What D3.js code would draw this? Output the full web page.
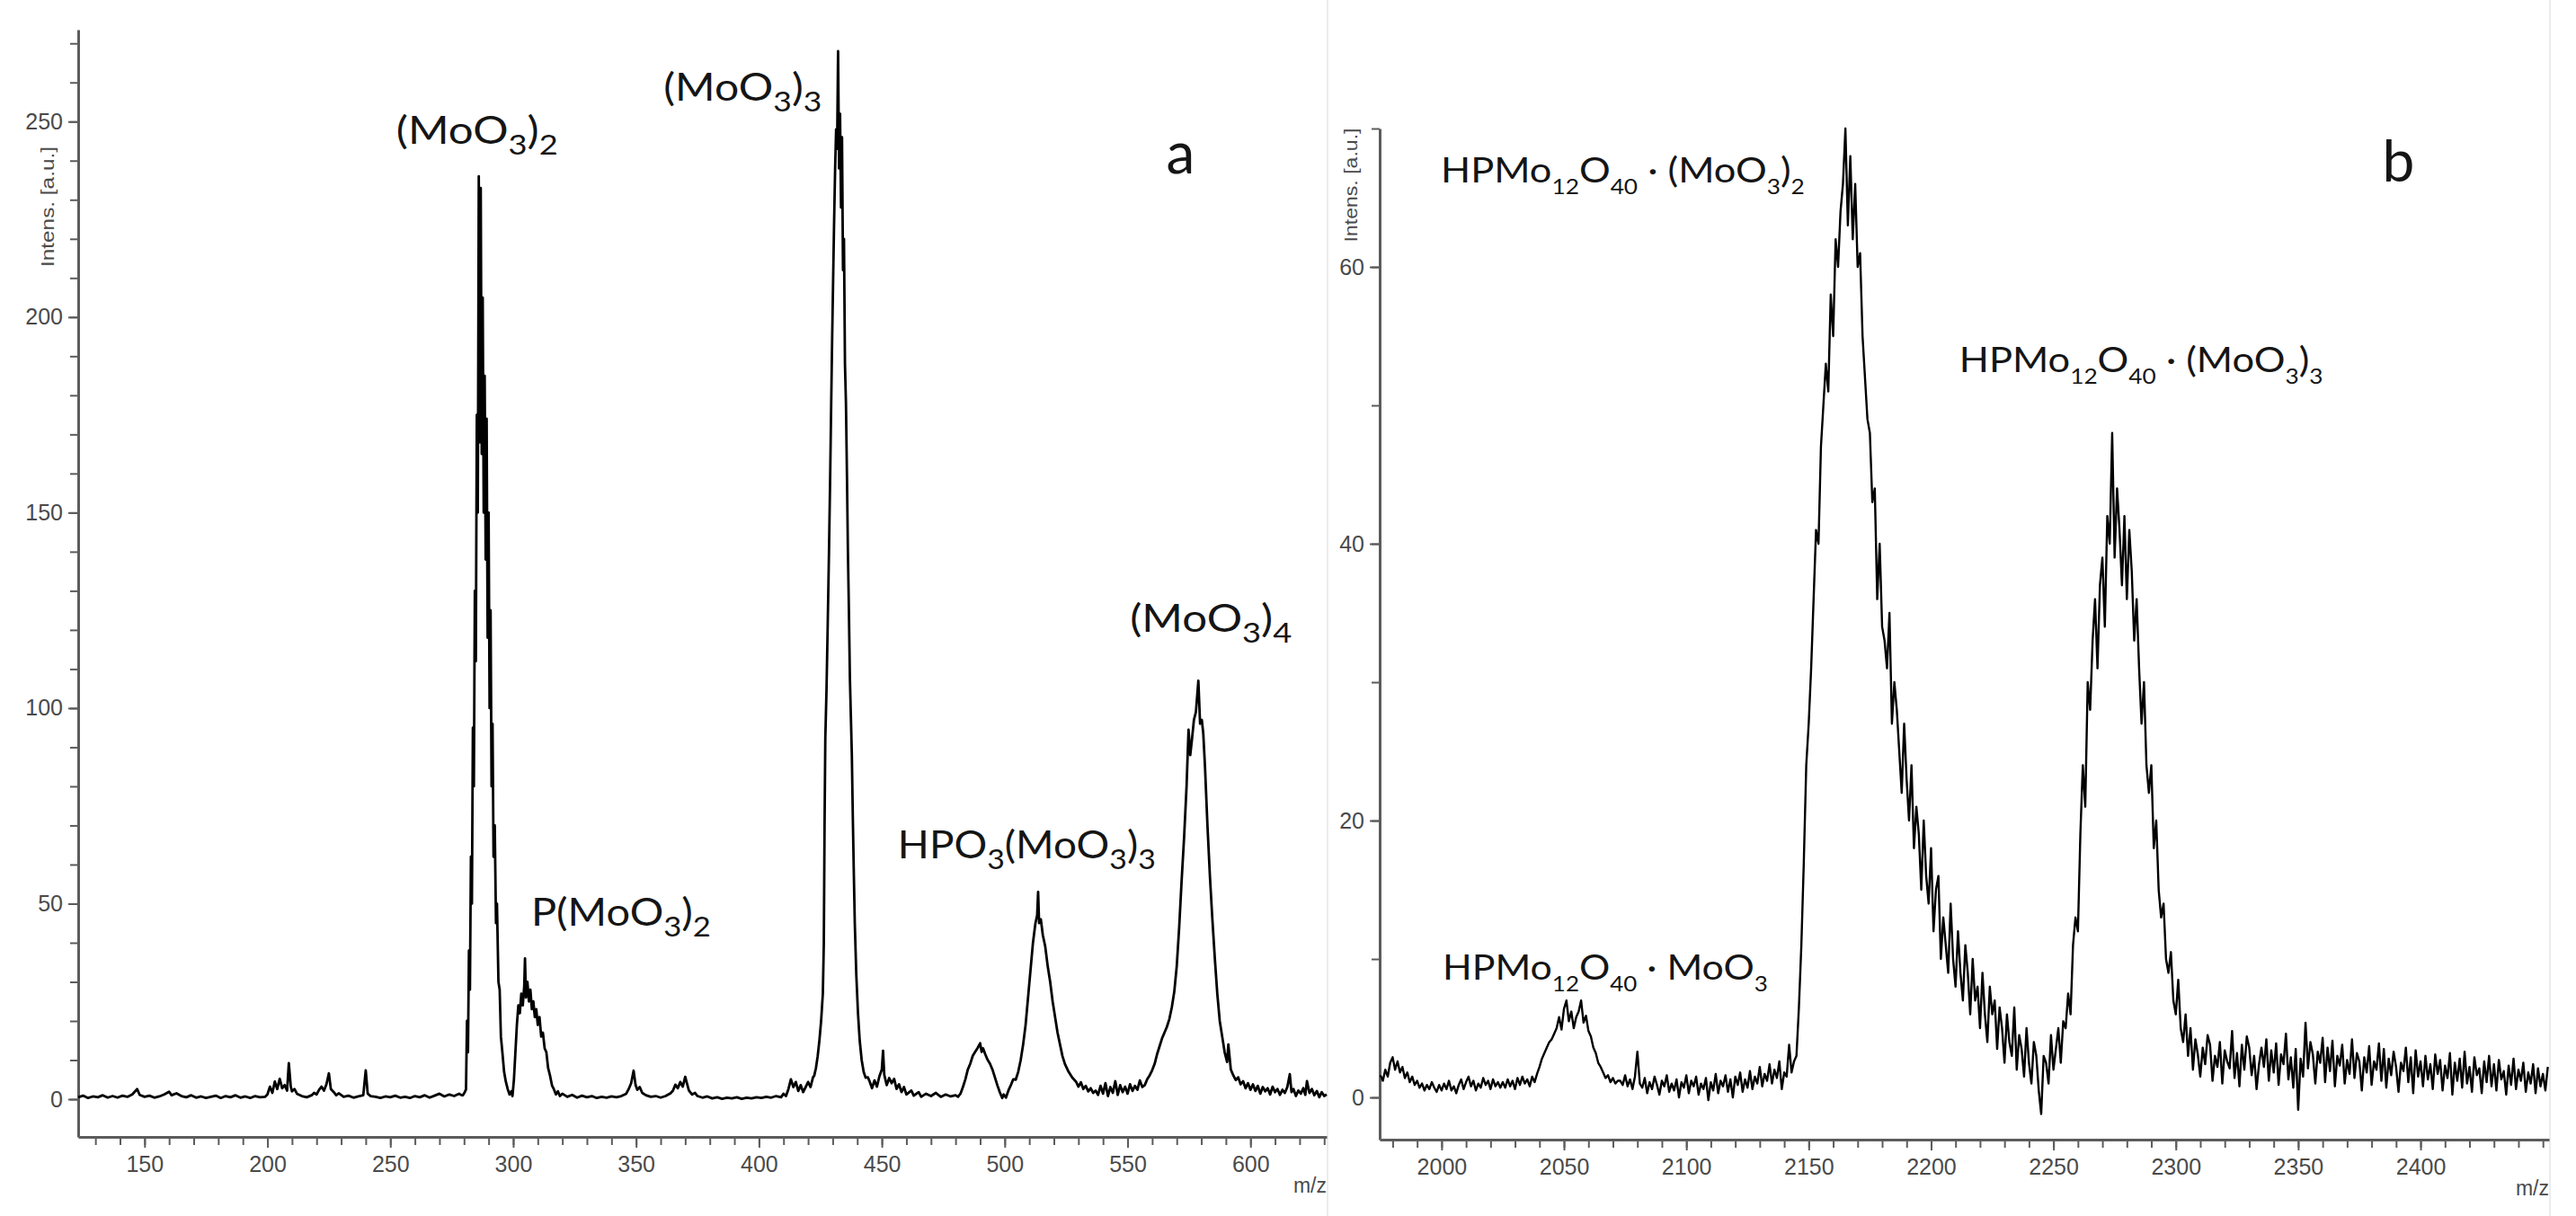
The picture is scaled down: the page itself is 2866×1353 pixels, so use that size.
<!DOCTYPE html>
<html><head><meta charset="utf-8">
<script src="https://cdn.jsdelivr.net/npm/d3@7"></script>
<style>
html,body{margin:0;padding:0;background:#fff;}
svg{display:block;}
text{white-space:pre;}
</style></head>
<body>
<svg id="chart" width="2866" height="1353"></svg>
<script>
// ================= DATA =================
// Panel a : m/z domain, intensity domain, tick labels
const aXDomain = [123, 631];
const aYDomain = [-9.65, 273.5];
const aXTickLabels = [150, 200, 250, 300, 350, 400, 450, 500, 550, 600];
const aYTickLabels = [0, 50, 100, 150, 200, 250];
const aXMinorTicks = [130,140,150,160,170,180,190,200,210,220,230,240,250,260,270,280,290,300,310,320,330,340,350,360,370,380,390,400,410,420,430,440,450,460,470,480,490,500,510,520,530,540,550,560,570,580,590,600,610,620,630];
const aYMinorTicks = [0,10,20,30,40,50,60,70,80,90,100,110,120,130,140,150,160,170,180,190,200,210,220,230,240,250,260,270];

// Panel a spectrum segments: [m/z, intensity]
const aBaseline1 = [[123,0.5],[125,0.9],[127,0.3],[129,0.7],[131,0.5],[133,1.0],[135,0.4],[137,0.8],[139,0.4],[141,0.9],[143,0.6],[145,1.2],[147,2.6],[148,1.1],[150,0.6],[152,0.9],[154,0.4],[156,0.7],[158,1.2],[160,1.9],[161,1.0],[163,1.5],[165,0.8],[167,0.5],[169,1.0],[171,0.4],[173,0.7],[175,0.3],[177,0.6],[179,0.9],[181,0.3],[183,0.8],[185,0.5],[187,1.0],[189,0.4],[191,0.7],[193,0.3],[195,0.8],[197,0.5],[199,0.6],[200,1.2],[201,3.2],[202,1.6],[203,4.5],[204,2.6],[205,5.2],[206,2.8],[207,3.6],[208,2.2],[208.7,9.2],[209.5,3.2],[210,2.0],[211,2.6],[212,1.4],[214,0.8],[216,0.5],[218,1.0],[219,1.6],[220,1.2],[221,2.4],[222,3.2],[223,2.2],[224,3.8],[225,6.6],[225.8,2.6],[227,1.8],[228,1.0],[229,1.5],[231,0.6],[233,0.9],[235,0.4],[237,0.7],[239,1.0],[240,7.4],[240.8,1.4],[242,0.8],[244,0.6],[246,0.3],[248,0.7],[250,0.5],[252,0.9],[254,0.4],[256,0.6],[258,0.3],[260,0.8],[262,0.5],[264,1.0],[266,0.4],[268,0.9],[270,1.4],[272,0.7],[274,1.2],[276,0.8],[278,1.4],[279,1.0]];
const aMoO3x2 = [[279.5,1.0],[280.3,1.8],[280.8,2.5],[281.2,20],[281.6,12],[282,38],[282.4,28],[282.8,62],[283.2,50],[283.6,95],[284,80],[284.4,130],[284.8,112],[285.2,175],[285.6,150],[286,236],[286.4,168],[286.8,233],[287.2,165],[287.6,205],[288,150],[288.4,185],[288.8,138],[289.2,174],[289.6,118],[290,150],[290.4,100],[290.8,125],[291.2,80],[291.6,96],[292,62],[292.5,70],[293,45],[293.4,50],[294,30],[294.5,28],[295,16],[295.6,12],[296.3,7],[297,4.5],[297.8,2.5],[298.5,1.2],[299.2,2.0],[299.7,0.8]];
const aPMoO3x2 = [[300.3,5],[300.9,12],[301.5,19],[302.1,24],[302.7,22],[303.3,27],[303.9,24],[304.5,29],[304.8,36],[305.2,26],[305.8,30],[306.4,25],[307,28],[307.6,23],[308.2,25],[308.8,21],[309.4,23],[310,19],[310.7,21],[311.4,16],[312.1,17],[312.8,13],[313.5,12],[314.2,8],[315,6],[315.8,3.5],[316.6,2.5],[317.4,1.2]];
const aBaseline2 = [[318.2,2.0],[319,0.8],[320,1.4],[322,0.6],[324,1.1],[326,0.4],[328,0.9],[330,0.5],[332,0.8],[334,0.3],[336,0.6],[338,0.4],[340,0.7],[342,0.5],[344,0.8],[346,1.4],[347,2.6],[348,4.1],[349,7.3],[349.8,3.6],[350.5,2.4],[351.5,3.1],[352.5,1.6],[354,1.0],[356,0.6],[358,0.8],[360,0.4],[362,0.8],[364,1.5],[365,2.2],[366,3.7],[367,2.8],[368,4.4],[369,3.2],[370,5.7],[370.8,3.8],[371.5,2.2],[372.8,1.2],[374,1.6],[375,0.8],[377,0.4],[379,0.7],[381,0.2],[383,0.5],[385,0.1],[387,0.4],[389,0.2],[391,0.5],[393,0.1],[395,0.4],[397,0.2],[399,0.5],[401,0.3],[403,0.6],[405,0.4],[407,0.8],[409,0.5],[410,1.4],[411,0.8],[412,2.6],[413,5.1],[414,3.1],[415,4.4],[416,2.1],[417,3.6],[418,1.8],[419,3.1],[420,4.4],[421,3.1],[422,5.6]];
const aMoO3x3 = [[422.5,6],[423.2,8],[423.9,11],[424.6,15],[425.3,20],[426,27],[426.4,40],[426.7,70],[427,92],[427.5,105],[428,122],[428.5,140],[429,160],[429.4,178],[429.8,195],[430.2,210],[430.6,225],[431,238],[431.4,248],[431.8,243],[432.2,268],[432.6,238],[433,252],[433.4,228],[433.8,246],[434.2,212],[434.6,220],[435,188],[435.4,178],[435.8,160],[436.2,140],[436.6,125],[437,108],[437.4,98],[437.8,88],[438.2,72],[438.6,58],[439,45],[439.6,32],[440.3,22],[441,15],[441.8,10],[442.6,7],[443.4,5.5]];
const aBaseline3 = [[444.3,5.6],[445,4.6],[446,2.8],[447,4.8],[448,3.2],[449,5.8],[450,7.6],[450.5,12.4],[451,6.2],[452,3.6],[453,5.4],[454,4.1],[455,5.2],[456,2.6],[457,3.8],[458,1.8],[459,3.1],[460,1.2],[462,2.2],[463,0.9],[465,1.8],[466,0.6],[468,1.4],[470,0.8],[472,1.6],[474,0.6],[476,1.2],[478,0.7],[480,1.0],[481,0.6],[482,1.4],[483,3.1],[484,5.1],[485,7.6],[486,9.1],[487,11.1],[488,12.1],[489,13.1],[490,14.3],[490.6,12.1],[491.2,13.0],[492,11.6],[493,10.1],[494,9.1],[495,7.6],[496,5.6],[497,3.6],[498,1.8],[499,0.3],[499.6,1.2],[500.5,0.4],[501.5,2.2],[502.5,3.6],[503.5,5.1]];
const aHPO3MoO3x3 = [[504.5,5],[505.5,7],[506.5,10],[507.5,14],[508.5,19],[509.5,26],[510.5,33],[511.5,40],[512.5,45],[513.2,47],[513.6,53],[514,45],[514.7,46],[515.5,42],[516.5,39],[517.5,34],[518.5,30],[519.5,25],[520.5,21],[521.5,17],[522.5,14],[523.5,11],[524.5,9],[526,7],[527.5,5.5],[529,4.5]];
const aBaseline4 = [[530,3.2],[531,4.3],[532,2.6],[533,3.4],[534,2.0],[535,2.8],[536,1.6],[537,2.2],[538,1.1],[539,3.4],[540,1.4],[541,4.1],[542,0.8],[543,3.1],[544,1.6],[545,4.6],[546,1.1],[547,3.6],[548,1.8],[549,3.2],[550,1.4],[551,3.8],[552,2.1],[553,3.4],[554,2.4],[555,4.8],[556,3.1],[557,3.6],[558,5.1],[559,6.1],[560,7.4],[561,9.0],[562,11.5]];
const aMoO3x4 = [[563,13.5],[564,15.5],[565,17],[566,18.5],[567,20.5],[568,23.5],[569,27.5],[570,34],[571,44],[572,56],[573,67],[574,80],[574.8,94.5],[575.5,88],[576.2,92],[577,97],[577.8,99],[578.8,107],[579.5,96],[580.2,97],[580.8,93.5],[581.5,85],[582.5,70],[583.5,57],[584.5,46],[585.5,36],[586.5,27],[587.5,20],[588.5,16],[589.5,12],[590.5,9.5],[591,14]];
const aBaseline5 = [[592,7.6],[593,6.1],[594,4.9],[595,5.6],[596,3.8],[597,4.6],[598,2.8],[599,4.1],[600,2.4],[601,3.8],[602,2.1],[603,3.4],[604,1.4],[605,3.1],[606,2.0],[607,2.8],[608,1.2],[609,3.2],[610,1.8],[611,2.6],[612,1.1],[613,2.4],[614,1.6],[615,3.1],[616,6.4],[616.7,1.8],[617.5,2.6],[618.5,0.8],[619.5,2.2],[620.5,1.4],[621.5,2.8],[622.3,1.1],[623,4.6],[624,1.6],[625,2.6],[626,1.0],[627,2.1],[628,0.5],[629,1.8],[630,0.8],[631,1.2]];

// Panel a annotations: text ("_n" = subscript), anchor m/z, anchor intensity (text baseline)
const aLabels = [
  ["(MoO_3)_2", 252.4, 244.3],
  ["(MoO_3)_3", 361.2, 255.3],
  ["P(MoO_3)_2", 307.3, 44.3],
  ["HPO_3(MoO_3)_3", 456.5, 61.6],
  ["(MoO_3)_4", 551.0, 119.5]
];
const aPanelLetter = ["a", 565.7, 236.7];

// Panel b
const bXDomain = [1974.7, 2452.5];
const bYDomain = [-3.05, 70];
const bXTickLabels = [2000, 2050, 2100, 2150, 2200, 2250, 2300, 2350, 2400];
const bYTickLabels = [0, 20, 40, 60];
const bXMinorTicks = [1980,1990,2000,2010,2020,2030,2040,2050,2060,2070,2080,2090,2100,2110,2120,2130,2140,2150,2160,2170,2180,2190,2200,2210,2220,2230,2240,2250,2260,2270,2280,2290,2300,2310,2320,2330,2340,2350,2360,2370,2380,2390,2400,2410,2420,2430,2440,2450];
const bYMinorTicks = [0,10,20,30,40,50,60,70];

// Panel b spectrum: uniformly sampled segments (start m/z, step 1 m/z, intensities)
const bLowMassStart = 1975;
const bLowMass = [
  1.6,1.2,2.0,1.5,2.5,2.9,2.0,2.6,1.8,2.2,
  1.4,1.8,1.1,1.5,0.9,1.2,0.7,1.0,0.5,0.9,
  0.6,1.1,0.7,0.4,0.9,0.5,1.0,0.6,1.2,0.5,
  0.8,0.3,0.9,1.3,0.6,1.1,1.5,0.8,1.2,0.5,
  1.0,0.7,1.4,0.9,1.2,0.6,1.3,0.8,1.1,0.7,
  1.1,0.7,1.3,0.8,1.2,0.6,1.4,0.9,1.5,1.0,
  1.3,0.8,1.5,1.1,1.7,2.2,2.8,3.2,3.6,4.0,
  4.2,4.6,5.0,5.8,4.9,6.4,7.0,5.5,6.2,5.0,
  5.8,6.2,7.0,5.4,5.9,4.8,4.4,3.6,3.2,2.5,
  2.2,1.8,1.4,1.6,1.1,1.4,1.0,1.2,1.2,0.9,
  1.6,0.8,1.3,0.6,1.5,3.3,1.0,0.7,1.4,0.3,
  1.1,0.6,1.5,0.9,0.2,1.2,0.8,1.6,0.4,1.0,
  0.5,1.3,0.0,1.1,0.7,1.6,0.3,1.2,0.8,1.5,
  0.2,1.0,0.6,1.4,-0.2,1.1,0.5,1.7,0.3,1.2,
  0.8,1.6,0.4,1.3,0.0,1.5,0.9,1.8,0.4,1.3,
  0.7,1.9,0.6,1.5,1.0,2.2,0.8,1.7,1.2,2.4,
  1.0,2.0,1.4,2.6,0.6,1.8,1.5,3.8,1.8,2.6
];
const bClusterStart = 2145;
const bCluster = [
  3.0,6.5,11,17,24,27,31,36,41,40,
  47,50,53,51,58,55,62,60,64,66,
  70,63,68,62,66,60,61,55,52,49,
  48,43,44,36,40,34,33,31,35,27,
  30,28,25,22,27,23,20,24,18,21,
  19,15,20,16,14,18,12,15,16,10,
  13,11,9,14,10,8,12,9,7,11,
  9,6,10,7,8,5,9,6,4,8,
  6,7,3.5,6.5,5,2.5,6,4,3,6.5,
  2,4.5,3.5,1.5,5,2.5,1,4,3,0.5,
  -1.2,3,2.5,1,4.5,2,3.5,5,2.5,5.5,
  5,7.5,6,11,13,12,19,24,21,30,
  28,33,36,31,37,39,34,42,40,48,
  39,44,41,37,42,36,41,38,33,36,
  31,27,30,24,22,24,18,20,15,13,
  14,10,9,10.5,7,6,8.5,5,4,6,
  3,5
];
const bHighMassStart = 2307;
const bHighMass = [
  2.0,4.2,3.1,1.5,3.6,2.4,4.5,3.8,1.2,3.0,
  2.2,4.0,1.0,3.4,2.6,2.1,4.8,1.4,3.2,0.8,
  3.8,2.0,4.4,3.6,1.6,3.0,0.6,2.4,3.6,2.2,
  4.2,1.2,3.4,1.8,3.9,0.9,3.1,2.4,4.6,1.3,
  2.9,0.7,3.5,-0.9,2.8,1.5,5.4,2.1,4.0,3.1,
  1.0,3.3,2.5,4.3,1.1,3.6,1.9,4.1,0.8,3.0,
  2.3,3.8,1.0,2.7,1.7,4.2,1.4,3.2,2.6,0.5,
  2.9,1.8,3.7,0.9,2.6,2.0,3.9,1.2,3.5,0.7,
  2.8,1.6,3.3,2.2,0.4,2.5,1.9,3.6,1.1,2.9,
  0.3,3.4,1.5,2.6,0.8,3.0,1.3,2.4,0.6,3.1,
  1.7,2.7,0.5,2.3,1.4,3.2,0.2,2.5,1.2,2.8,
  0.7,3.3,1.0,2.2,0.4,2.9,1.6,2.1,0.3,2.6,
  1.1,3.0,0.8,2.4,0.5,2.7,1.3,1.9,0.2,2.3,
  0.9,2.8,0.6,2.0,1.2,2.5,0.4,1.8,1.0,2.4,
  0.3,2.1,0.8,1.7,0.5,2.2
];

const bLabels = [
  ["HPMo_12O_40 · (MoO_3)_2", 1999.7, 66.1],
  ["HPMo_12O_40 · (MoO_3)_3", 2211.5, 52.4],
  ["HPMo_12O_40 · MoO_3", 2000.4, 8.5]
];
const bPanelLetter = ["b", 2384.4, 66.2];
const axisTitleY = "Intens. [a.u.]";
const axisTitleX = "m/z";

// ================= LAYOUT / STYLE =================
const L = {
  a: { x0: 87, x1: 1476, yTop: 33, yBottom: 1265,
       titleX: 53, titleMidY: 230, titleLen: 134,
       labelSize: 42, subSize: 31, subDy: 12,
       labelWidths: [180, 176, 200, 287, 180], lineWidth: 2.8 },
  b: { x0: 1535, x1: 2836, yTop: 143, yBottom: 1268,
       titleX: 1503, titleMidY: 206, titleLen: 127,
       labelSize: 38, subSize: 23, subDy: 13,
       labelWidths: [405, 405, 362], lineWidth: 2.4 }
};
const axisColor = "#5c5c5c";
const tickTextColor = "#4a4a4a";
const tickFont = "'Liberation Sans', Arial, sans-serif";
const labelFont = "Lato, 'Open Sans', sans-serif";

const svg = d3.select("#chart");
svg.append("rect").attr("width", 2866).attr("height", 1353).attr("fill", "#fff");

// faint image borders
[1477, 2837].forEach(xx => svg.append("line")
  .attr("x1", xx).attr("x2", xx).attr("y1", 0).attr("y2", 1353)
  .attr("stroke", "#ececec").attr("stroke-width", 2));

function addChemLabel(g, str, x, y, size, subSize, subDy, width, color) {
  const t = g.append("text").attr("font-family", labelFont)
    .attr("font-size", size).attr("fill", color || "#151515");
  const parts = str.split(/(_\d+)/).filter(s => s.length);
  let shifted = false;
  parts.forEach(p => {
    if (p[0] === "_") {
      t.append("tspan").attr("font-size", subSize).attr("dy", shifted ? 0 : subDy).text(p.slice(1));
      shifted = true;
    } else {
      t.append("tspan").attr("dy", shifted ? -subDy : 0).text(p);
      shifted = false;
    }
  });
  let sx = 1;
  if (width) {
    const w = t.node().getComputedTextLength();
    if (w > 0) sx = width / w;
  }
  t.attr("transform", `translate(${x},${y}) scale(${sx},1)`);
  return t;
}

function drawPanel(key, xDomain, yDomain, xMinor, xMajor, yMinor, yMajor, data, labels, letter) {
  const P = L[key];
  const g = svg.append("g").attr("class", "panel-" + key);
  const x = d3.scaleLinear().domain(xDomain).range([P.x0, P.x1]);
  const y = d3.scaleLinear().domain(yDomain).range([P.yBottom, P.yTop]);

  // x axis minor + major
  const gx = g.append("g").attr("transform", `translate(0,${P.yBottom})`);
  gx.call(d3.axisBottom(x).tickValues(xMinor).tickSize(9).tickSizeOuter(0).tickFormat(""));
  const gx2 = g.append("g").attr("transform", `translate(0,${P.yBottom})`);
  gx2.call(d3.axisBottom(x).tickValues(xMajor).tickSize(12).tickSizeOuter(0).tickPadding(9).tickFormat(d3.format("d")));
  gx2.select(".domain").remove();

  // y axis minor + major
  const gy = g.append("g").attr("transform", `translate(${P.x0},0)`);
  gy.call(d3.axisLeft(y).tickValues(yMinor).tickSize(9).tickSizeOuter(0).tickFormat(""));
  const gy2 = g.append("g").attr("transform", `translate(${P.x0},0)`);
  gy2.call(d3.axisLeft(y).tickValues(yMajor).tickSize(11).tickSizeOuter(0).tickPadding(6).tickFormat(d3.format("d")));
  gy2.select(".domain").remove();

  g.selectAll(".domain").attr("stroke", axisColor).attr("stroke-width", 3);
  g.selectAll(".tick line").attr("stroke", axisColor).attr("stroke-width", 2);
  g.selectAll(".tick text").attr("font-family", tickFont).attr("font-size", 25)
    .attr("fill", tickTextColor);

  // axis titles
  g.append("text").attr("font-family", tickFont).attr("font-size", 20).attr("fill", tickTextColor)
    .attr("text-anchor", "middle")
    .attr("transform", `translate(${P.titleX},${P.titleMidY}) rotate(-90)`)
    .attr("dy", "0.35em")
    .attr("textLength", P.titleLen).attr("lengthAdjust", "spacingAndGlyphs")
    .text(axisTitleY);
  g.append("text").attr("font-family", tickFont).attr("font-size", 23).attr("fill", tickTextColor)
    .attr("text-anchor", "end").attr("x", P.x1).attr("y", P.yBottom + 62)
    .text(axisTitleX);

  // spectrum
  g.append("path").datum(data)
    .attr("fill", "none").attr("stroke", "#000").attr("stroke-width", P.lineWidth)
    .attr("stroke-linejoin", "round")
    .attr("d", d3.line().x(d => x(d[0])).y(d => y(d[1])));

  // annotations
  labels.forEach((lb, i) => {
    addChemLabel(g, lb[0], x(lb[1]), y(lb[2]), P.labelSize, P.subSize, P.subDy, P.labelWidths[i]);
  });
  g.append("text").attr("font-family", labelFont).attr("font-size", 64).attr("fill", "#151515")
    .attr("x", x(letter[1])).attr("y", y(letter[2])).text(letter[0]);
}

const aSpectrum = [].concat(aBaseline1, aMoO3x2, aPMoO3x2, aBaseline2, aMoO3x3, aBaseline3,
  aHPO3MoO3x3, aBaseline4, aMoO3x4, aBaseline5);
const toPairs = (start, vals) => vals.map((v, i) => [start + i, v]);
const bSpectrum = [].concat(toPairs(bLowMassStart, bLowMass), toPairs(bClusterStart, bCluster),
  toPairs(bHighMassStart, bHighMass));

drawPanel("a", aXDomain, aYDomain, aXMinorTicks, aXTickLabels, aYMinorTicks, aYTickLabels, aSpectrum, aLabels, aPanelLetter);
drawPanel("b", bXDomain, bYDomain, bXMinorTicks, bXTickLabels, bYMinorTicks, bYTickLabels, bSpectrum, bLabels, bPanelLetter);
</script>
</body></html>
